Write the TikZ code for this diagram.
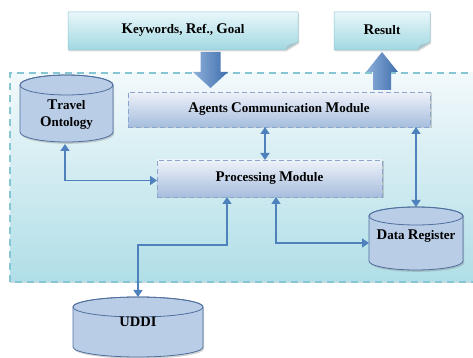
\documentclass[tikz,border=0pt]{standalone}
\usepackage{fontspec}
\setmainfont{Liberation Serif}
\usetikzlibrary{arrows.meta,shadows,calc}
\definecolor{arr}{HTML}{4F81BD}
\definecolor{notetop}{HTML}{E8F7FA}
\definecolor{notebot}{HTML}{A2D8E2}
\definecolor{noteedge}{HTML}{8CC6D2}
\definecolor{regtop}{HTML}{F2F9FB}
\definecolor{regbot}{HTML}{B0DEE7}
\definecolor{regedge}{HTML}{86C6D3}
\definecolor{modtop}{HTML}{EEF2F9}
\definecolor{modbot}{HTML}{A6BDDE}
\definecolor{modedge}{HTML}{8AA6CF}
\definecolor{cylfill}{HTML}{B9CDE6}
\definecolor{cyledge}{HTML}{4F6F9E}
\definecolor{blk1}{HTML}{8EAFDA}
\definecolor{blk2}{HTML}{3F6EAD}
\pgfdeclarelayer{back}
\pgfdeclarelayer{bg}
\pgfsetlayers{back,bg,main}
\newcommand\FL[1]{{\fontsize{14.8pt}{16pt}\selectfont #1}}
\newcommand\cyl[3]{%
  \begin{pgfonlayer}{bg}
  \draw[cylbody] ($(#1.north west)+(0,-#3)$) -- ($(#1.south west)+(0,#3)$)
     arc[start angle=180,end angle=360,x radius=#2,y radius=#3]
     -- ($(#1.north east)+(0,-#3)$)
     arc[start angle=0,end angle=180,x radius=#2,y radius=#3] -- cycle;
  \draw[cylline] ($(#1.north)+(0,-#3)$) ellipse[x radius=#2,y radius=#3];
  \end{pgfonlayer}}
\begin{document}
\begin{tikzpicture}[x=1pt,y=1pt,
  lbl/.style={font=\fontsize{13pt}{17pt}\selectfont\bfseries, align=center, text=black, inner sep=0pt},
  box/.style={inner sep=0pt, outer sep=0pt},
  module/.style={box, draw=modedge, dashed, dash pattern=on 5pt off 3pt, line width=0.8pt,
     top color=modtop, bottom color=modbot,
     drop shadow={shadow xshift=1.5pt, shadow yshift=-1.5pt, opacity=0.35}},
  notebody/.style={top color=notetop, bottom color=notebot, draw=noteedge, line width=0.5pt,
     drop shadow={shadow xshift=1.2pt, shadow yshift=-1.5pt, opacity=0.3}},
  cylbody/.style={fill=cylfill, draw=cyledge, line width=0.8pt,
     drop shadow={shadow xshift=1.2pt, shadow yshift=-1.8pt, opacity=0.35}},
  cylline/.style={draw=cyledge, line width=0.8pt},
  blockarr/.style={left color=blk1, right color=blk2, draw=none},
  link/.style={draw=arr, line width=1.6pt,
     {Triangle[length=7pt,width=9pt]}-{Triangle[length=7pt,width=9pt]}},
]
\useasboundingbox (0,0) rectangle (473,358);
\clip (0,0) rectangle (473,358);

% system region
\node[box, minimum width=475pt, minimum height=209pt, anchor=south west] (sys) at (10,76) {};
\begin{pgfonlayer}{back}
\path[top color=regtop, bottom color=regbot,
   drop shadow={shadow xshift=0pt, shadow yshift=-1.5pt, opacity=0.3}] (sys.south west) rectangle (sys.north east);
\draw[regedge, line width=1.1pt, dash pattern=on 7pt off 5pt] (sys.south west) rectangle (sys.north east);
\end{pgfonlayer}

% input / output notes
\node[box, minimum width=230pt, minimum height=38pt] (kw) at (183,327) {};
\node[box, minimum width=96pt, minimum height=38pt] (res) at (382,327) {};
\begin{pgfonlayer}{bg}
\foreach \n in {kw,res}{
  \path[notebody] (\n.north west) -- (\n.north east) -- ($(\n.south east)+(0,8)$)
     -- ($(\n.south east)+(-13,0)$) -- (\n.south west) -- cycle;
  \fill[noteedge!80!black!60] ($(\n.south east)+(0,8)$) -- ($(\n.south east)+(-13,0)$)
     -- ($(\n.south east)+(-10,5)$) -- cycle;
}
\end{pgfonlayer}
\node[lbl] (kwt) at ($(kw)+(0,1)$) {\FL{K}eywords, \FL{R}ef., \FL{G}oal};
\node[lbl] (rest) at ($(res)+(0,1)$) {\FL{R}esult};

% modules
\node[module, minimum width=302pt, minimum height=35pt] (ac) at (279,248.5) {};
\node[lbl] (act) at (ac) {\FL{A}gents \FL{C}ommunication \FL{M}odule};
\node[module, minimum width=225pt, minimum height=37pt] (pm) at (269.5,179.5) {};
\node[lbl] (pmt) at (pm) {\FL{P}rocessing \FL{M}odule};

% cylinders
\node[box, minimum width=93pt, minimum height=67pt] (to) at (66.5,249.5) {};
\cyl{to}{46.5}{10}
\node[lbl] (tot) at ($(to)+(0,-6.5)$) {\FL{T}ravel\\\FL{O}ntology};
\node[box, minimum width=94pt, minimum height=63pt] (dr) at (416,119.5) {};
\cyl{dr}{47}{9}
\node[lbl] (drt) at ($(dr)+(0,2)$) {\FL{D}ata \FL{R}egister};
\node[box, minimum width=130pt, minimum height=60pt] (ud) at (138,31) {};
\cyl{ud}{65}{10}
\node[lbl, font=\fontsize{14.5pt}{16pt}\selectfont\bfseries] (udt) at ($(ud)+(0,5)$) {UDDI};

% block arrows
\coordinate (d1) at ($(kw.south)+(27.5,-2)$);
\shade[blockarr] (d1) ++(-10,0) -- ++(20,0) -- ++(0,-20) -- ++(7.5,0) -- ++(-17.5,-16)
   -- ++(-17.5,16) -- ++(7.5,0) -- cycle;
\coordinate (u1) at ($(ac.north -| res.south)+(0,2)$);
\shade[blockarr] (u1) ++(-9,0) -- ++(18,0) -- ++(0,18) -- ++(7,0) -- ++(-16,20)
   -- ++(-16,-20) -- ++(7,0) -- cycle;

% connectors
\draw[link] ($(ac.south)+(-14,0)$) -- ($(pm.north)+(-4.5,0)$);
\draw[link] (dr.north) -- (dr.north |- ac.south);
\draw[link] ($(to.south)+(-1.5,-2)$) |- ($(pm.west)+(0,-2)$);
\draw[link] ($(pm.south)+(-42.5,0)$) |- ($(ud.north)+(0,52)$) -- (ud.north);
\draw[link] ($(pm.south)+(6.5,0)$) |- ($(dr.west)+(0,-4.5)$);
\end{tikzpicture}
\end{document}
